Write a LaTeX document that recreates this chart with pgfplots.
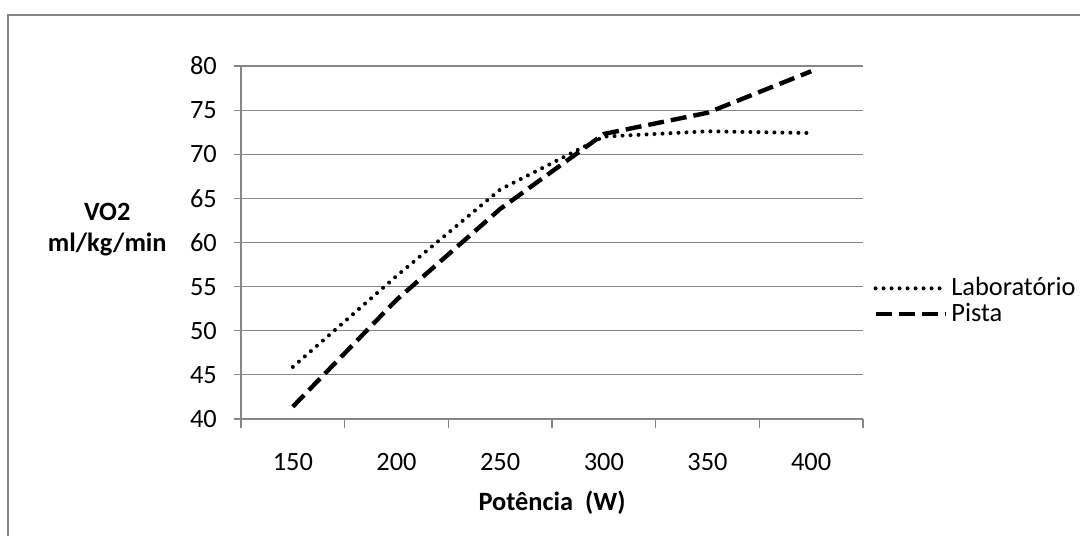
\documentclass[border=0pt]{standalone}
\usepackage{pgfplots}
\pgfplotsset{compat=1.18}
\usepackage{fontspec}
\setmainfont{Carlito}
\definecolor{gridgray}{HTML}{868686}
\begin{document}
\fontsize{13.2pt}{15.5pt}\selectfont
\begin{tikzpicture}
\useasboundingbox (0,0) rectangle (540pt,267.5pt);
\draw[gridgray, line width=1pt] (4pt,-10pt) -- (4pt,260pt) -- (560pt,260pt);
\begin{axis}[
  at={(120.5pt,58pt)}, anchor=south west,
  scale only axis, width=311pt, height=176.5pt,
  xmin=0.5, xmax=6.5, ymin=40, ymax=80,
  xtick={1,...,6}, xticklabels={150,200,250,300,350,400},
  minor xtick={0.5,1.5,...,6.5},
  ytick={40,45,...,80},
  axis x line*=bottom, axis y line*=left,
  axis line style={-, draw=gridgray, line width=0.6pt},
  tick align=outside,
  major x tick style={draw=none},
  minor x tick style={draw=gridgray, line width=0.6pt},
  major y tick style={draw=gridgray, line width=0.6pt},
  major tick length=3.5pt, minor tick length=4.5pt,
  ymajorgrids, grid style={draw=gridgray, line width=0.6pt},
  /pgf/number format/assume math mode=true,
  ticklabel style={font=\fontsize{13.2pt}{15.5pt}\selectfont},
  xticklabel style={yshift=-9pt},
  yticklabel style={xshift=-4pt},
  xlabel={\textbf{Potência\ \ (W)}},
  xlabel style={at={(axis description cs:0.5,-0.238)}, anchor=center, font=\fontsize{13.2pt}{15.5pt}\selectfont},
  ylabel={\textbf{VO2}\\\textbf{ml/kg/min}},
  ylabel style={rotate=-90, at={(axis description cs:-0.215,0.537)}, anchor=center, align=center, font=\fontsize{13.2pt}{15.5pt}\selectfont},
  legend style={draw=none, fill=none, at={(axis description cs:1.016,0.413)}, anchor=north west,
    font=\fontsize{13.2pt}{15.5pt}\selectfont, row sep=-1.8pt, inner sep=0pt,
    nodes={inner sep=1.8pt}},
  legend cell align=left,
  legend image code/.code={\draw[#1] (0pt,0pt) -- (35pt,0pt);},
]
\addplot[black, line width=2pt, line cap=round, dash pattern=on 0pt off 4pt] coordinates {
 (1,45.9) (2,56.2) (3,66.0) (4,72.0) (5,72.6) (6,72.4)};
\addlegendentry{Laboratório}
\addplot[black, line width=2.2pt, dash pattern=on 8pt off 3.5pt] coordinates {
 (1,41.4) (2,53.5) (3,63.8) (4,72.3) (5,74.7) (6,79.4)};
\addlegendentry{Pista}
\end{axis}
\end{tikzpicture}
\end{document}
